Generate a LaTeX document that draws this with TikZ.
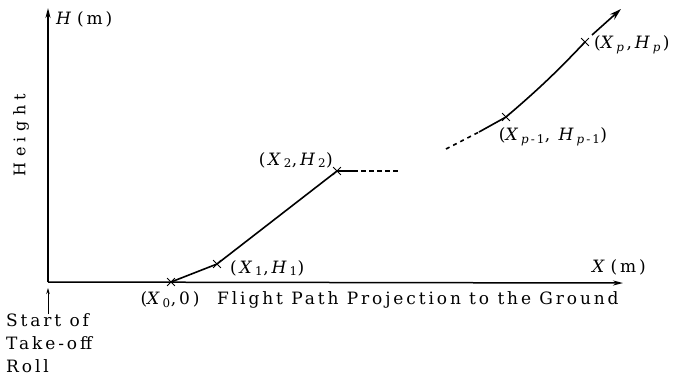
\documentclass[tikz,border=0pt]{standalone}
\usepackage{fontspec}
\setmainfont{DejaVu Serif}[LetterSpace=17]
\usetikzlibrary{arrows.meta,shapes.misc}

\newcommand{\varsub}[2]{\textit{#1}\textsubscript{#2}}

\tikzset{
  xmark/.style={cross out, draw, line width=0.8pt, minimum size=7pt, inner sep=0pt},
  lbl/.style={inner sep=1pt, font=\fontsize{17}{21}\selectfont},
  path/.style={line width=1.6pt},
  axis/.style={line width=1.5pt, -{Stealth[length=10pt, width=5pt]}}
}

\begin{document}
\begin{tikzpicture}[x=1pt, y=-1pt]

% === Wymiary ===
\useasboundingbox (0,0) rectangle (676,376);

% === Osie ===
\coordinate (o) at (48,282);
\coordinate (ytop) at (48,8);
\coordinate (xend) at (623,283);
\draw[axis] (o) -- (ytop);
\draw[axis] (o) -- (xend);

\node[lbl, anchor=west] (hlab) at (55,19) {\textit{H}\,(m)};
\node[lbl, anchor=west] (xlab) at (591,267) {\textit{X}\,(m)};
\node[lbl, rotate=90, font=\fontsize{16}{16}\selectfont\addfontfeature{LetterSpace=34}]
  (height) at (21,135) {Height};

% === Punkty toru lotu ===
\node[xmark] (p0) at (171,282) {};
\node[xmark] (p1) at (217,264) {};
\node[xmark] (p2) at (337,171) {};
\node[xmark] (pq) at (506,117) {};
\node[xmark] (pp) at (585,42) {};

% Etykiety punktów
\node[lbl, anchor=center] (l0) at (170,300) {(\varsub{X}{0},0)};
\node[lbl, anchor=west] (l1) at (229,268) {(\,\varsub{X}{1},\,\varsub{H}{1})};
\node[lbl, anchor=east] (l2) at (334,160) {(\,\varsub{X}{2},\,\varsub{H}{2})};
\node[lbl, anchor=center] (lq) at (553,137) {(\varsub{X}{\textit{p}-1}, \varsub{H}{\textit{p}-1})};
\node[lbl, anchor=west] (lp) at (593,45) {(\varsub{X}{\textit{p}},\,\varsub{H}{\textit{p}})};

% === Tor lotu ===
\coordinate (s2) at (353,171);
\coordinate (d2) at (399,171);
\coordinate (dq) at (446,149);
\coordinate (sq) at (479,132);
\coordinate (tip) at (621,9);
\coordinate (tail) at (592,35);

\draw[path] (p0.center) -- (p1.center) -- (p2.center) -- (s2);
\draw[path, dash pattern=on 5pt off 3pt] (s2) -- (d2);
\draw[path, dash pattern=on 4pt off 4pt] (dq) -- (sq);
\draw[path] (sq) -- (pq.center) to[bend right=3] (pp.center);
\draw[path, -{Stealth[length=12pt, width=7pt]}] (tail) -- (tip);

% === Start rozbiegu ===
\coordinate (sa) at (48,314);
\coordinate (sb) at (48,288);
\draw[line width=0.8pt, -{Stealth[length=6pt, width=3.5pt]}] (sa) -- (sb);
\node[lbl, anchor=north west, align=left] (start) at (5,312)
  {Start of\\[2pt]Take-off\\[2pt]Roll};

% === Rzut na ziemię ===
\node[lbl, anchor=west] (ground) at (216,300) {Flight Path Projection to the Ground};

\end{tikzpicture}
\end{document}
